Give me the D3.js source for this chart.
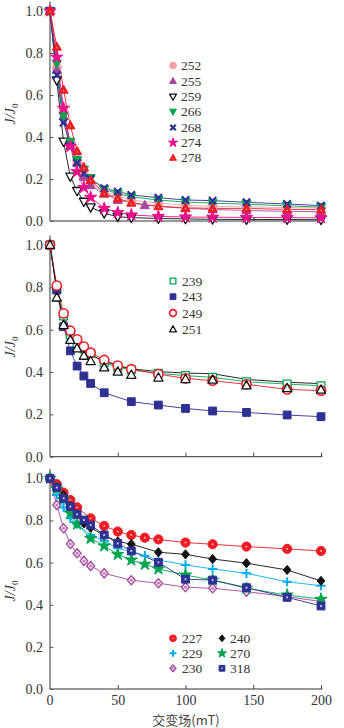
<!DOCTYPE html>
<html>
<head>
<meta charset="utf-8">
<script src="https://cdn.jsdelivr.net/npm/d3@7"></script>
<style>
  body { margin: 0; background: #fff; }
  svg text { font-family: "Liberation Serif", "DejaVu Serif", serif; }
</style>
</head>
<body>
<div id="chart"></div>
<script>
// x values (mT) for each panel
const xsTop = [0, 5, 10, 15, 20, 25, 30, 40, 50, 60, 80, 100, 120, 145, 175, 200]
const xs255 = [0, 5, 10, 15, 20, 25, 30, 40, 50, 70, 100, 120, 145, 175, 200]
const xsMid = [0, 5, 10, 15, 20, 25, 30, 40, 50, 60, 80, 100, 120, 145, 175, 200]
const xs243 = [0, 5, 10, 15, 20, 25, 30, 40, 60, 80, 100, 120, 145, 175, 200]
const xs227 = [0, 5, 10, 15, 20, 30, 40, 50, 60, 70, 80, 100, 120, 145, 175, 200]
const xs229 = [0, 5, 10, 15, 20, 30, 40, 50, 60, 70, 80, 100, 120, 145, 175, 200]
const xsBot = [0, 5, 10, 15, 20, 25, 30, 40, 50, 60, 80, 100, 120, 145, 175, 200]
const xs230 = [0, 5, 10, 15, 20, 25, 30, 40, 60, 80, 100, 120, 145, 175, 200]

// J/J0 values, top panel
const v252 = [1, 0.73, 0.52, 0.37, 0.29, 0.22, 0.18, 0.14, 0.12, 0.10, 0.085, 0.075, 0.07, 0.067, 0.064, 0.062]
const v255 = [1, 0.72, 0.50, 0.36, 0.28, 0.21, 0.17, 0.13, 0.10, 0.075, 0.06, 0.055, 0.05, 0.046, 0.044]
const v259 = [1, 0.67, 0.378, 0.212, 0.143, 0.092, 0.065, 0.037, 0.02, 0.016, 0.012, 0.01, 0.008, 0.007, 0.007, 0.006]
const v266 = [1, 0.75, 0.50, 0.378, 0.29, 0.245, 0.205, 0.15, 0.13, 0.115, 0.10, 0.09, 0.085, 0.08, 0.072, 0.066]
const v268 = [1, 0.695, 0.468, 0.357, 0.276, 0.227, 0.20, 0.156, 0.14, 0.124, 0.111, 0.10, 0.097, 0.089, 0.081, 0.073]
const v274 = [1, 0.78, 0.537, 0.355, 0.235, 0.16, 0.113, 0.06, 0.04, 0.029, 0.022, 0.019, 0.018, 0.017, 0.016, 0.015]
const v278 = [1, 0.83, 0.625, 0.455, 0.333, 0.256, 0.195, 0.132, 0.108, 0.087, 0.07, 0.063, 0.06, 0.06, 0.055, 0.055]

// middle panel
const v239 = [1, 0.79, 0.665, 0.575, 0.535, 0.509, 0.488, 0.444, 0.422, 0.41, 0.394, 0.383, 0.375, 0.354, 0.343, 0.335]
const v243 = [1, 0.787, 0.614, 0.50, 0.428, 0.381, 0.346, 0.302, 0.26, 0.244, 0.228, 0.216, 0.209, 0.197, 0.189]
const v249 = [1, 0.808, 0.677, 0.595, 0.554, 0.52, 0.491, 0.457, 0.43, 0.413, 0.39, 0.37, 0.359, 0.342, 0.318, 0.312]
const v251 = [1, 0.78, 0.65, 0.58, 0.54, 0.505, 0.48, 0.45, 0.43, 0.415, 0.402, 0.395, 0.392, 0.365, 0.352, 0.345]

// bottom panel
const v227 = [1, 0.972, 0.932, 0.897, 0.862, 0.81, 0.774, 0.747, 0.731, 0.718, 0.71, 0.695, 0.687, 0.676, 0.665, 0.655]
const v229 = [1, 0.921, 0.861, 0.81, 0.782, 0.731, 0.703, 0.668, 0.652, 0.633, 0.612, 0.589, 0.57, 0.549, 0.509, 0.49]
const v230 = [1, 0.873, 0.763, 0.688, 0.644, 0.608, 0.584, 0.549, 0.516, 0.502, 0.483, 0.478, 0.462, 0.438, 0.415]
const v240 = [1, 0.96, 0.92, 0.87, 0.83, 0.786, 0.765, 0.73, 0.70, 0.688, 0.649, 0.639, 0.617, 0.597, 0.565, 0.513]
const v270 = [1, 0.95, 0.90, 0.834, 0.783, 0.715, 0.679, 0.639, 0.612, 0.592, 0.57, 0.541, 0.517, 0.478, 0.446, 0.426]
const v318 = [1, 0.956, 0.905, 0.866, 0.829, 0.802, 0.778, 0.731, 0.691, 0.655, 0.601, 0.521, 0.517, 0.481, 0.435, 0.394]

const yTicks = [0, 0.2, 0.4, 0.6, 0.8, 1.0]
const xTicks = [0, 50, 100, 150, 200]
const xTitle = "交变场(mT)"

const width = 344, height = 728

const svg = d3.select("#chart")
  .append("svg")
    .attr("width", width)
    .attr("height", height)

const x = d3.scaleLinear().domain([0, 200]).range([50, 321])

// marker shapes, r = half size
function shapePath(kind, r) {
  if (kind == "circle") return `M${r},0A${r},${r} 0 1,1 ${-r},0A${r},${r} 0 1,1 ${r},0Z`
  if (kind == "tri") return `M0,${-r * 1.05}L${r},${r * 0.75}L${-r},${r * 0.75}Z`
  if (kind == "triDown") return `M0,${r * 1.05}L${r},${-r * 0.75}L${-r},${-r * 0.75}Z`
  if (kind == "square") return `M${-r * 0.85},${-r * 0.85}h${r * 1.7}v${r * 1.7}h${-r * 1.7}Z`
  if (kind == "diamond") return `M0,${-r}L${r * 0.85},0L0,${r}L${-r * 0.85},0Z`
  if (kind == "x") return `M${-r * 0.8},${-r * 0.8}L${r * 0.8},${r * 0.8}M${r * 0.8},${-r * 0.8}L${-r * 0.8},${r * 0.8}`
  if (kind == "plus") return `M${-r},0H${r}M0,${-r}V${r}`
  if (kind == "star") return d3.symbol(d3.symbolStar, r * r * 2.2)()
}

function drawMarker(g, s, r) {
  const open = s.open
  g.append("path")
    .attr("d", shapePath(s.shape, r))
    .attr("fill", (s.shape == "x" || s.shape == "plus") ? "none" : (open ? "#fff" : s.color))
    .attr("stroke", s.color)
    .attr("stroke-width", s.sw || 1)
    .attr("stroke-linejoin", "round")
  if (s.dot) {
    g.append("path")
      .attr("d", shapePath(s.shape == "diamond" ? "circle" : s.shape, r * (s.dotSize || 0.35)))
      .attr("transform", s.shape == "tri" ? `translate(0,${r * 0.2})` : null)
      .attr("fill", s.dotColor || "#fff")
      .attr("opacity", 0.7)
  }
}

const panels = [
  {
    top: 11, bottom: 221, labelY: 114, showX: false,
    series: [
      {name: "252", xs: xsTop, ys: v252, color: "#f4a3ad", shape: "circle"},
      {name: "255", xs: xs255, ys: v255, color: "#a5489d", shape: "tri"},
      {name: "259", xs: xsTop, ys: v259, color: "#111", shape: "triDown", open: true, sw: 1.3},
      {name: "266", xs: xsTop, ys: v266, color: "#00a551", shape: "triDown"},
      {name: "268", xs: xsTop, ys: v268, color: "#2e3192", shape: "x", sw: 2.2},
      {name: "274", xs: xsTop, ys: v274, color: "#ec0e8c", shape: "star"},
      {name: "278", xs: xsTop, ys: v278, color: "#ee1c25", shape: "tri", dot: true, dotSize: 0.18}
    ],
    legend: {cols: [[173, 181]], rows: [65.5, 81, 96.7, 111.7, 127.5, 142.7, 157.7]}
  },
  {
    top: 245, bottom: 456.7, labelY: 347, showX: false,
    series: [
      {name: "239", xs: xsMid, ys: v239, color: "#00a551", shape: "square", open: true, sw: 1.3},
      {name: "243", xs: xs243, ys: v243, color: "#2e3192", shape: "square", sw: 1},
      {name: "249", xs: xsMid, ys: v249, color: "#ee1c25", shape: "circle", open: true, sw: 1.6},
      {name: "251", xs: xsMid, ys: v251, color: "#111", shape: "tri", open: true, sw: 1.3, dy: 6}
    ],
    legend: {cols: [[173, 182]], rows: [281, 296.7, 313, 329.3]}
  },
  {
    top: 478.3, bottom: 689, labelY: 591, showX: true,
    series: [
      {name: "227", xs: xs227, ys: v227, color: "#ee1c25", shape: "circle", dot: true, dotSize: 0.2},
      {name: "229", xs: xs229, ys: v229, color: "#00aeef", shape: "plus", sw: 2},
      {name: "230", xs: xs230, ys: v230, color: "#a5489d", shape: "diamond", open: true, sw: 1.4, dot: true, dotColor: "#a5489d"},
      {name: "240", xs: xsBot, ys: v240, color: "#111", shape: "diamond"},
      {name: "270", xs: xs229, ys: v270, color: "#00a551", shape: "star"},
      {name: "318", xs: xsBot, ys: v318, color: "#2e3192", shape: "square", dot: true, dotSize: 0.25}
    ],
    legend: {cols: [[173, 182], [222, 230]], rows: [638.3, 653.3, 668.3]}
  }
]

panels.forEach(p => {
  const y = d3.scaleLinear().domain([0, 1]).range([p.bottom, p.top])
  const g = svg.append("g")

  // axes
  g.append("line")
    .attr("x1", x(0)).attr("x2", x(0))
    .attr("y1", y(0)).attr("y2", y(1.045))
    .attr("stroke", "#333")
  g.append("line")
    .attr("x1", x(0)).attr("x2", x(201))
    .attr("y1", y(0)).attr("y2", y(0))
    .attr("stroke", "#333")

  const yAxis = g.append("g")
    .attr("transform", `translate(${x(0)},0)`)
    .call(d3.axisLeft(y).tickValues(yTicks).tickFormat(d3.format(".1f")).tickSizeInner(-3.5).tickSizeOuter(0).tickPadding(7))
  yAxis.select(".domain").remove()
  yAxis.selectAll("text").attr("font-size", "14px").attr("fill", "#333")
  yAxis.selectAll("line").attr("stroke", "#555")

  const xAxis = g.append("g")
    .attr("transform", `translate(0,${y(0)})`)
    .call(d3.axisBottom(x).tickValues(xTicks.slice(1)).tickSizeInner(-4).tickSizeOuter(0).tickPadding(6.5))
  xAxis.select(".domain").remove()
  xAxis.selectAll("line").attr("stroke", "#444")
  if (p.showX) {
    xAxis.append("text")
      .attr("x", x(0)).attr("y", 6.5).attr("dy", "0.71em")
      .attr("text-anchor", "middle").text("0")
    xAxis.selectAll("text").attr("font-size", "14px").attr("fill", "#333")
  } else {
    xAxis.selectAll("text").remove()
  }

  // y title J/J0
  const yl = g.append("text")
    .attr("transform", `translate(15,${p.labelY}) rotate(-90)`)
    .attr("text-anchor", "middle")
    .attr("font-size", "14px")
    .attr("font-style", "italic")
    .attr("fill", "#333")
  yl.append("tspan").text("J/J")
  yl.append("tspan").attr("font-size", "9px").attr("dy", "3").attr("font-style", "normal").text("0")

  // lines then markers
  const line = d3.line().x(d => x(d[0])).y(d => y(d[1]))
  p.series.forEach(s => {
    const pts = s.xs.map((xv, i) => [xv, s.ys[i]])
    g.append("path")
      .datum(pts)
      .attr("d", line)
      .attr("fill", "none")
      .attr("stroke", s.color)
      .attr("stroke-width", 1)
      .attr("opacity", 0.9)
  })
  p.series.forEach(s => {
    const pts = s.xs.map((xv, i) => [xv, s.ys[i]])
    pts.forEach(d => {
      const m = g.append("g")
        .attr("transform", `translate(${x(d[0])},${y(d[1]) + (d[0] > 0 ? (s.dy || 0) : 0)})`)
      drawMarker(m, s, 4.6)
    })
  })

  // legend
  const nRows = p.legend.rows.length
  p.series.forEach((s, i) => {
    const col = p.legend.cols[Math.floor(i / nRows)]
    const ry = p.legend.rows[i % nRows]
    const m = g.append("g").attr("transform", `translate(${col[0]},${ry})`)
    drawMarker(m, s, 3.4)
    g.append("text")
      .attr("x", col[1]).attr("y", ry).attr("dy", "0.35em")
      .attr("font-size", "13.5px").attr("fill", "#333")
      .text(s.name)
  })
})

svg.append("text")
  .attr("x", 186).attr("y", 725)
  .attr("text-anchor", "middle")
  .attr("font-size", "13px")
  .attr("fill", "#444")
  .style("font-family", "'Noto Sans CJK SC', sans-serif")
  .text(xTitle)
</script>
</body>
</html>
